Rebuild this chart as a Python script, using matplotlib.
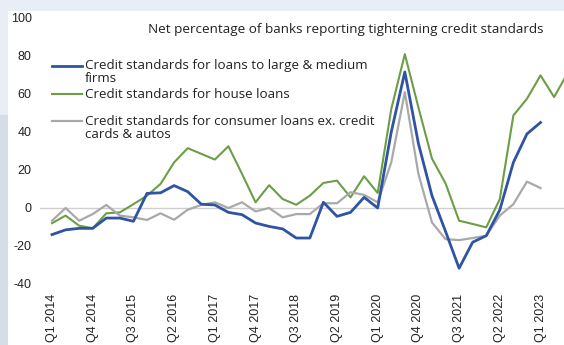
import matplotlib
matplotlib.use("Agg")
import matplotlib.pyplot as plt
from matplotlib.patches import Rectangle
from matplotlib.lines import Line2D

quarters = ["Q1 2014", "Q2 2014", "Q3 2014", "Q4 2014",
            "Q1 2015", "Q2 2015", "Q3 2015", "Q4 2015",
            "Q1 2016", "Q2 2016", "Q3 2016", "Q4 2016",
            "Q1 2017", "Q2 2017", "Q3 2017", "Q4 2017",
            "Q1 2018", "Q2 2018", "Q3 2018", "Q4 2018",
            "Q1 2019", "Q2 2019", "Q3 2019", "Q4 2019",
            "Q1 2020", "Q2 2020", "Q3 2020", "Q4 2020",
            "Q1 2021", "Q2 2021", "Q3 2021", "Q4 2021",
            "Q1 2022", "Q2 2022", "Q3 2022", "Q4 2022",
            "Q1 2023", "Q2 2023", "Q3 2023"]

large_medium_firms = [-14, -11.5, -10.7, -10.7, -5.3, -5.3, -7, 7.7, 8, 11.8,
                      8.6, 2, 1.6, -2.3, -3.5, -7.9, -9.7, -11, -15.8, -15.8,
                      3, -4.4, -2.3, 5.6, 0, 40, 71.6, 34, 6.5, -12.3,
                      -31.7, -18, -14.6, -1, 24, 39, 45]

house_loans = [-8, -4, -9.3, -10.7, -2.8, -2.3, 2, 6.5, 12.7, 24,
               31.5, 28.5, 25.5, 32.5, 18, 3, 12, 4.7, 1.7, 6.5,
               13.2, 14.4, 5.6, 16.7, 7.9, 52, 81, 53, 26, 13,
               -6.7, -8.4, -10.2, 4.7, 48.7, 57.5, 69.8, 58.4, 71]

consumer_loans = [-6.7, 0, -6.7, -3.2, 1.6, -4, -4.9, -6.3, -2.8, -6.2,
                  -0.9, 1.6, 3, 0, 3, -1.8, 0, -4.9, -3.2, -3.2,
                  2.5, 2.5, 8.3, 6.9, 3, 24, 61, 18, -7.6, -16.4,
                  -16.9, -15.8, -14.6, -4, 2, 13.9, 10.5]

y_ticks = [100, 80, 60, 40, 20, 0, -20, -40]

title = "Net percentage of banks reporting tighterning credit standards"
legend_labels = [["Credit standards for loans to large & medium", "firms"],
                 ["Credit standards for house loans"],
                 ["Credit standards for consumer loans ex. credit", "cards & autos"]]

BLUE = "#2e54a3"
GREEN = "#6b9e45"
GRAY = "#a9a9a9"
TEXT_FONT = "Open Sans"

W, H = 564, 345
fig = plt.figure(figsize=(W / 100, H / 100), dpi=100)
fig.patch.set_facecolor("white")

def px(x, y, w, h, color):
    fig.patches.append(Rectangle((x / W, 1 - (y + h) / H), w / W, h / H,
                                 transform=fig.transFigure, color=color,
                                 zorder=0, linewidth=0))

px(0, 0, W, 11, "#e9eef6")
px(0, 11, 8, 104, "#e9eef6")
px(0, 115, 8, H - 115, "#d5dde6")

x0, x1 = 40, 564
ytop, ybot = 18, 284
ax = fig.add_axes([x0 / W, 1 - ybot / H, (x1 - x0) / W, (ybot - ytop) / H])
ax.set_facecolor("none")

xs = list(range(len(quarters)))
ax.axhline(0, color="#cfcfcf", lw=1.0, zorder=1)
ax.plot(xs[:len(house_loans)], house_loans, color=GREEN, lw=1.5, zorder=2)
ax.plot(xs[:len(consumer_loans)], consumer_loans, color=GRAY, lw=1.6, zorder=3)
ax.plot(xs[:len(large_medium_firms)], large_medium_firms, color=BLUE, lw=2.0, zorder=4)

step = 13.57
ax.set_xlim(-(52 - x0) / step, (x1 - 52) / step)
ax.set_ylim(-40, 100)
ax.set_yticks(y_ticks)
ax.set_yticklabels([str(v) for v in y_ticks], fontsize=9, family="Liberation Sans", color="#222222")
ax.set_xticks(xs[::3])
ax.set_xticklabels(quarters[::3], rotation=90, fontsize=9, family="Liberation Sans", color="#222222")
ax.tick_params(axis="both", length=0)
ax.tick_params(axis="y", pad=6)
ax.tick_params(axis="x", pad=7)
for s in ax.spines.values():
    s.set_visible(False)

fig.text(148 / W, 1 - 30 / H, title, fontsize=9.7, family=TEXT_FONT, color="#222222",
         ha="left", va="center")

handles_y = [66, 94, 121]
colors = [BLUE, GREEN, GRAY]
widths = [2.0, 1.5, 1.6]
for yy, col, lw, lab in zip(handles_y, colors, widths, legend_labels):
    fig.lines.append(Line2D([52 / W, 82 / W], [1 - yy / H, 1 - yy / H],
                            transform=fig.transFigure, color=col, lw=lw))
    for k, line in enumerate(lab):
        fig.text(85 / W, 1 - (yy + 13 * k) / H, line, fontsize=9.6, family=TEXT_FONT,
                 color="#222222", ha="left", va="center")

fig.savefig("out.png", dpi=100)
